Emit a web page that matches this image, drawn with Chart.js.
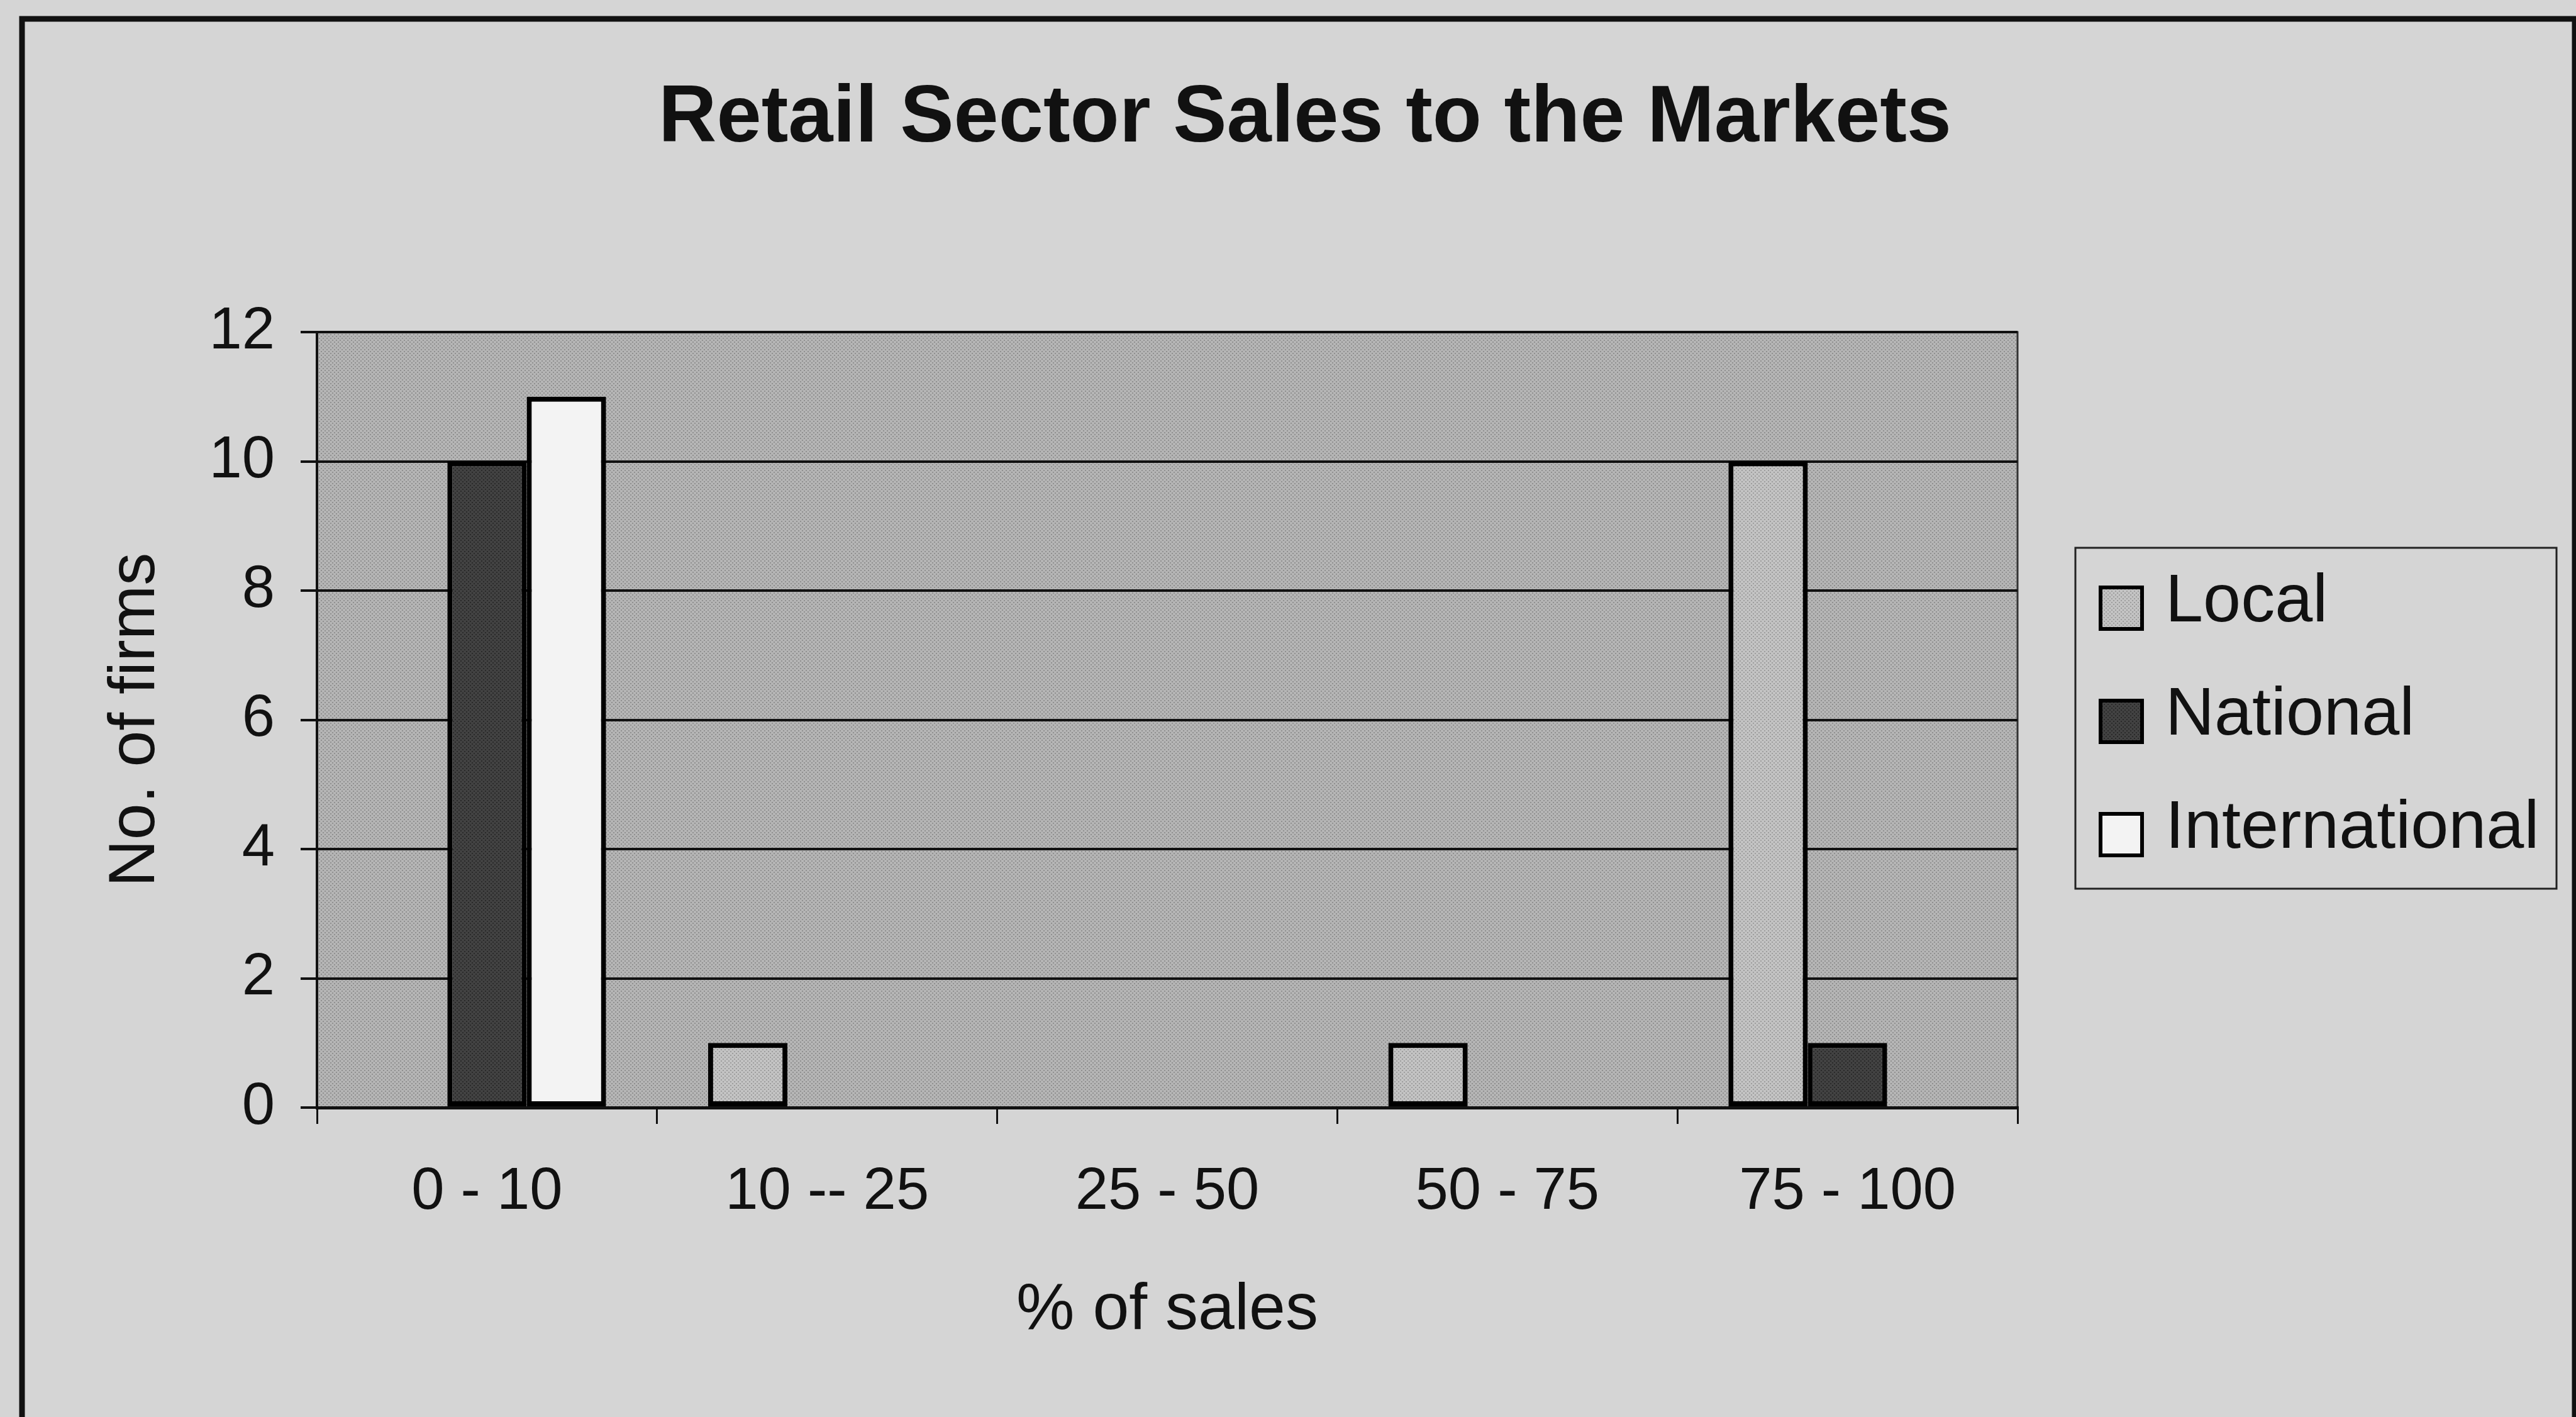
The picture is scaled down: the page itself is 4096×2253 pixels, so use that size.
<!DOCTYPE html>
<html>
<head>
<meta charset="utf-8">
<title>Retail Sector Sales to the Markets</title>
<script src="https://cdn.jsdelivr.net/npm/chart.js@4.4.1/dist/chart.umd.min.js"></script>
<style>
    html, body { margin: 0; padding: 0; background: #d5d5d5; overflow: hidden; }
    canvas { display: block; }
</style>
</head>
<body>
<canvas id="myChart" width="4096" height="2253"></canvas>
<script>
const CATEGORIES = ['0 - 10', '10 -- 25', '25 - 50', '50 - 75', '75 - 100'];
const SERIES = ['Local', 'National', 'International'];
const LOCAL = [0, 1, 0, 1, 10];
const NATIONAL = [10, 0, 0, 0, 1];
const INTERNATIONAL = [11, 0, 0, 0, 0];
const Y_TICKS = [0, 2, 4, 6, 8, 10, 12];

const TITLE = 'Retail Sector Sales to the Markets';
const FONT = '"Liberation Sans", Arial, sans-serif';

const canvas = document.querySelector('#myChart');
const ctx = canvas.getContext('2d');

// little stipple tiles, like the old print fills
function stipple(base, dot) {
    const tile = document.createElement('canvas');
    tile.width = 6;
    tile.height = 6;
    const g = tile.getContext('2d');
    g.fillStyle = base;
    g.fillRect(0, 0, 6, 6);
    g.fillStyle = dot;
    g.fillRect(0, 0, 2, 2);
    g.fillRect(3, 3, 2, 2);
    return ctx.createPattern(tile, 'repeat');
}

const PLOT_FILL = stipple('#b5b5b5', '#909090');
const COLORS = [
    stipple('#c3c3c3', '#9e9e9e'),
    stipple('#424242', '#2a2a2a'),
    '#f3f3f3'
];

// page frame, plot background, title and the boxed legend
const frame = {
    id: 'frame',
    beforeDraw(chart) {
        const {ctx, chartArea: a, width, height} = chart;
        ctx.save();
        ctx.fillStyle = '#d5d5d5';
        ctx.fillRect(0, 0, width, height);

        ctx.strokeStyle = '#111';
        ctx.lineWidth = 9;
        ctx.beginPath();
        ctx.moveTo(35, height + 20);
        ctx.lineTo(35, 30);
        ctx.lineTo(width - 2, 30);
        ctx.lineTo(width - 2, height + 20);
        ctx.stroke();

        ctx.fillStyle = PLOT_FILL;
        ctx.fillRect(a.left, a.top, a.width, a.height);
        ctx.strokeStyle = '#333';
        ctx.lineWidth = 3;
        ctx.strokeRect(a.left, a.top, a.width, a.height);
        ctx.restore();
    },
    afterDraw(chart) {
        const {ctx} = chart;
        ctx.save();
        ctx.fillStyle = '#111';
        ctx.font = 'bold 128px ' + FONT;
        ctx.textAlign = 'center';
        ctx.textBaseline = 'middle';
        ctx.fillText(TITLE, 2075, 190);

        // legend
        ctx.strokeStyle = '#222';
        ctx.lineWidth = 3;
        ctx.strokeRect(3300, 871, 765, 542);
        ctx.font = '108px ' + FONT;
        ctx.textAlign = 'left';
        chart.data.datasets.forEach((ds, i) => {
            const y = 958 + i * 180;
            ctx.fillStyle = ds.backgroundColor;
            ctx.fillRect(3340, y - 24, 66, 66);
            ctx.strokeStyle = '#000';
            ctx.lineWidth = 6;
            ctx.strokeRect(3340, y - 24, 66, 66);
            ctx.fillStyle = '#111';
            ctx.fillText(ds.label, 3443, y);
        });
        ctx.restore();
    }
};

const tickFont = {family: FONT, size: 94};
const titleFont = {family: FONT, size: 104, lineHeight: 1.2};

const chart = new Chart(canvas, {
    type: 'bar',
    data: {
        labels: CATEGORIES,
        datasets: [LOCAL, NATIONAL, INTERNATIONAL].map((values, i) => ({
            label: SERIES[i],
            data: values,
            backgroundColor: COLORS[i],
            borderColor: '#000',
            borderWidth: 8,
            borderSkipped: false,
            barPercentage: 1,
            categoryPercentage: 0.7
        }))
    },
    options: {
        responsive: false,
        animation: false,
        devicePixelRatio: 1,
        layout: {
            padding: {top: 528, left: 100, right: 888, bottom: 50}
        },
        plugins: {
            legend: {display: false},
            title: {display: false},
            tooltip: {enabled: false}
        },
        scales: {
            x: {
                grid: {
                    drawOnChartArea: false,
                    drawTicks: true,
                    tickLength: 26,
                    color: '#111',
                    lineWidth: 3,
                    offset: true
                },
                border: {color: '#111', width: 5},
                ticks: {
                    font: tickFont,
                    color: '#111',
                    padding: 53,
                    maxRotation: 0,
                    autoSkip: false
                },
                title: {
                    display: true,
                    text: '% of sales',
                    font: titleFont,
                    color: '#111',
                    padding: {top: 0, bottom: 56}
                },
                afterFit(scale) {
                    scale.height = 442;
                }
            },
            y: {
                min: 0,
                max: 12,
                grid: {
                    color: '#111',
                    lineWidth: 4,
                    drawTicks: true,
                    tickLength: 26
                },
                border: {color: '#111', width: 4},
                ticks: {
                    font: tickFont,
                    color: '#111',
                    padding: 41
                },
                afterBuildTicks(scale) {
                    scale.ticks = Y_TICKS.map(v => ({value: v}));
                },
                title: {
                    display: true,
                    text: 'No. of firms',
                    font: titleFont,
                    color: '#111',
                    padding: {top: 54, bottom: 0}
                },
                afterFit(scale) {
                    scale.width = 404;
                }
            }
        }
    },
    plugins: [frame]
});
</script>
</body>
</html>
